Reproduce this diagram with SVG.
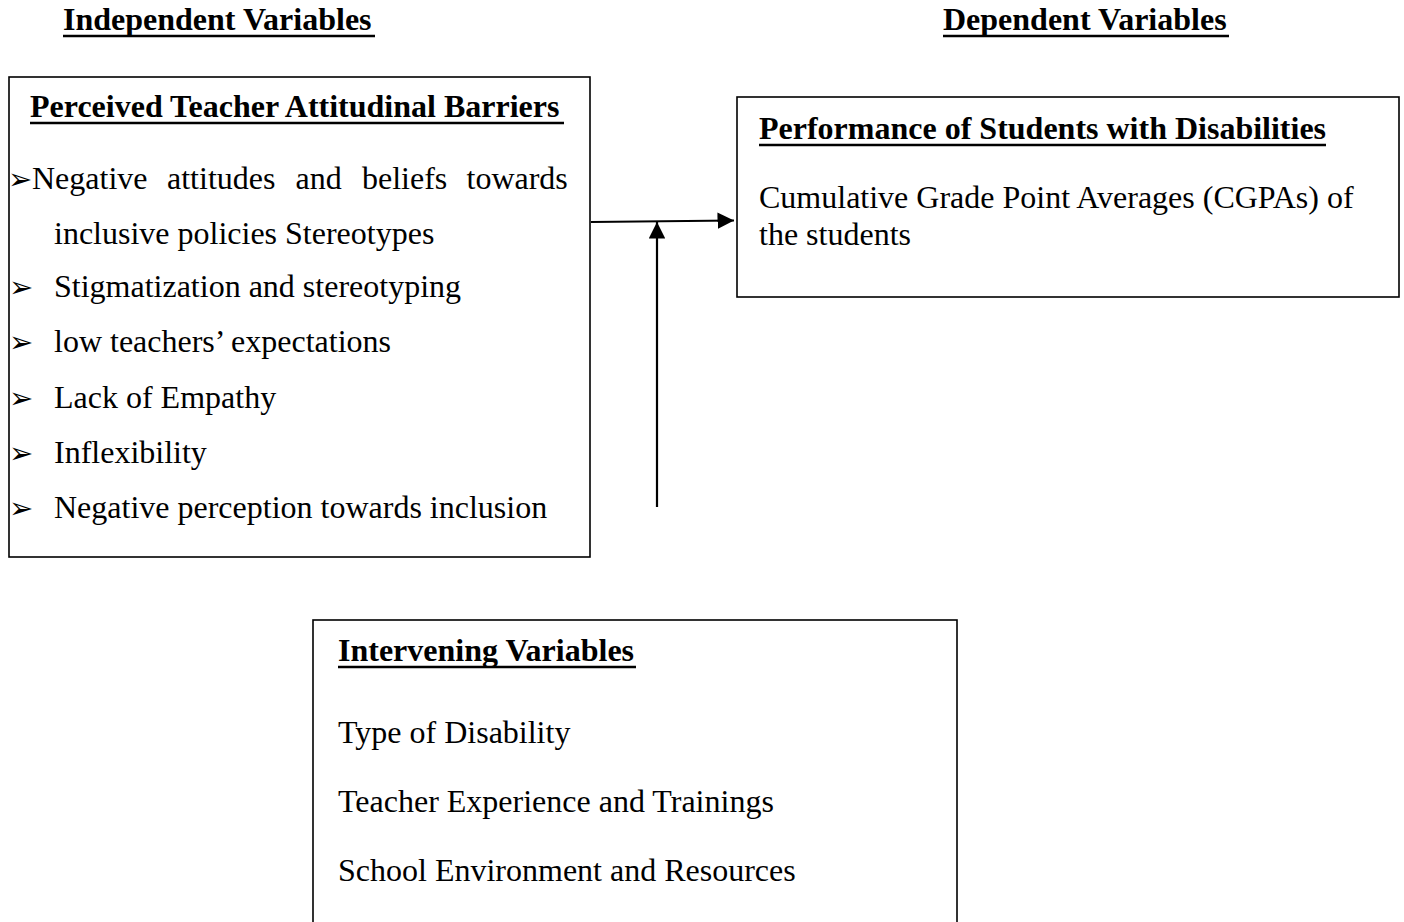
<svg xmlns="http://www.w3.org/2000/svg" width="1404" height="922" viewBox="0 0 1404 922">
<style>
.t{font-family:"Liberation Serif","Times New Roman",serif;font-size:32px;fill:#000}
.b{font-weight:bold}
.bul{font-family:"DejaVu Sans",sans-serif;font-size:29px;fill:#000}
.box{fill:#fff;stroke:#000;stroke-width:1.6}
.ul{stroke:#000;stroke-width:2.6}
.con{stroke:#000;stroke-width:2.2;fill:none}
</style>
<defs>
<marker id="ah" viewBox="0 0 10 10" refX="10" refY="5" markerWidth="7.5" markerHeight="7.5" orient="auto" markerUnits="strokeWidth">
<path d="M0,0 L10,5 L0,10 Z" fill="#000"/>
</marker>
</defs>
<rect width="1404" height="922" fill="#fff"/>

<g id="label-independent">
<text class="t b" x="63" y="30">Independent Variables</text>
<line class="ul" x1="63" y1="36" x2="375" y2="36"/>
</g>
<g id="label-dependent">
<text class="t b" x="943" y="30">Dependent Variables</text>
<line class="ul" x1="943" y1="36" x2="1229" y2="36"/>
</g>

<g id="node-independent">
<rect class="box" x="9" y="77" width="581" height="480"/>
<text class="t b" x="30" y="117">Perceived Teacher Attitudinal Barriers</text>
<line class="ul" x1="30" y1="123" x2="564" y2="123"/>
<text class="bul" x="8" y="189">➢</text>
<text class="t" y="189"><tspan x="32">Negative</tspan><tspan x="167">attitudes</tspan><tspan x="295.5">and</tspan><tspan x="362">beliefs</tspan><tspan x="466.5">towards</tspan></text>
<text class="t" x="54" y="244">inclusive policies Stereotypes</text>
<text class="bul" x="9" y="297">➢</text>
<text class="t" x="54" y="297">Stigmatization and stereotyping</text>
<text class="bul" x="9" y="352">➢</text>
<text class="t" x="54" y="352">low teachers’ expectations</text>
<text class="bul" x="9" y="408">➢</text>
<text class="t" x="54" y="408">Lack of Empathy</text>
<text class="bul" x="9" y="463">➢</text>
<text class="t" x="54" y="463">Inflexibility</text>
<text class="bul" x="9" y="518">➢</text>
<text class="t" x="54" y="518">Negative perception towards inclusion</text>
</g>

<g id="node-dependent">
<rect class="box" x="737" y="97" width="662" height="200"/>
<text class="t b" x="759" y="139">Performance of Students with Disabilities</text>
<line class="ul" x1="759" y1="145" x2="1326" y2="145"/>
<text class="t" x="759" y="208">Cumulative Grade Point Averages (CGPAs) of</text>
<text class="t" x="759" y="245">the students</text>
</g>

<g id="node-intervening">
<rect class="box" x="313" y="620" width="644" height="320"/>
<text class="t b" x="338" y="661">Intervening Variables</text>
<line class="ul" x1="338" y1="667" x2="636" y2="667"/>
<text class="t" x="338" y="743">Type of Disability</text>
<text class="t" x="338" y="812">Teacher Experience and Trainings</text>
<text class="t" x="338" y="881">School Environment and Resources</text>
</g>

<g id="connectors">
<line class="con" x1="591" y1="222" x2="734" y2="220.5" marker-end="url(#ah)"/>
<line class="con" x1="657" y1="507" x2="657" y2="222" marker-end="url(#ah)"/>
</g>
</svg>
